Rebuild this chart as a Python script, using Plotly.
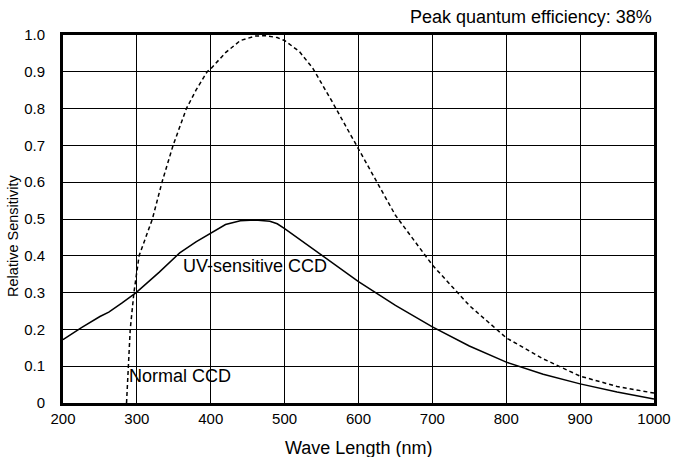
import plotly.graph_objects as go

# UV-sensitive CCD (solid)
uv_wl = [200, 225, 250, 262, 280, 299, 330, 358, 380, 400, 420, 440, 460, 480, 490, 500, 520, 545, 570, 600, 650, 700, 750, 800, 850, 900, 950, 1000]
uv_val = [0.172, 0.205, 0.235, 0.247, 0.272, 0.300, 0.355, 0.408, 0.438, 0.462, 0.485, 0.495, 0.497, 0.494, 0.487, 0.474, 0.445, 0.408, 0.372, 0.330, 0.265, 0.207, 0.155, 0.111, 0.078, 0.052, 0.030, 0.011]

# Normal CCD (dashed)
normal_wl = [286, 288, 291, 296, 303, 312, 321, 334, 349, 367, 380, 395, 400, 420, 440, 460, 475, 490, 500, 520, 538, 564, 600, 650, 700, 750, 800, 850, 900, 950, 1000]
normal_val = [0.0, 0.1, 0.2, 0.3, 0.4, 0.45, 0.5, 0.6, 0.7, 0.8, 0.85, 0.9, 0.908, 0.952, 0.985, 0.997, 0.998, 0.993, 0.985, 0.955, 0.91, 0.82, 0.69, 0.51, 0.375, 0.265, 0.177, 0.12, 0.073, 0.045, 0.027]

x_ticks = [200, 300, 400, 500, 600, 700, 800, 900, 1000]
y_ticks = [0, 0.1, 0.2, 0.3, 0.4, 0.5, 0.6, 0.7, 0.8, 0.9, 1.0]
y_ticktext = ["0", "0.1", "0.2", "0.3", "0.4", "0.5", "0.6", "0.7", "0.8", "0.9", "1.0"]

FONT = "Liberation Sans, Arial, sans-serif"

fig = go.Figure()
fig.add_trace(go.Scatter(x=uv_wl, y=uv_val, mode="lines", name="UV-sensitive CCD",
                         line=dict(color="black", width=1.5), hoverinfo="skip"))
fig.add_trace(go.Scatter(x=normal_wl, y=normal_val, mode="lines", name="Normal CCD",
                         line=dict(color="black", width=1.5, dash="4px,3px"), hoverinfo="skip"))

fig.update_layout(
    width=673, height=457,
    margin=dict(l=63, r=19, t=35, b=54, autoexpand=False),
    paper_bgcolor="white", plot_bgcolor="white",
    showlegend=False,
    font=dict(family=FONT, color="black", size=15),
    xaxis=dict(range=[200, 1000], tickvals=x_ticks, ticktext=[str(v) for v in x_ticks],
               showgrid=True, gridcolor="black", gridwidth=1, automargin=False,
               showline=True, linecolor="black", linewidth=3, mirror=True,
               ticks="", tickfont=dict(size=15), zeroline=False),
    yaxis=dict(range=[0, 1], tickvals=y_ticks, ticktext=y_ticktext,
               showgrid=True, gridcolor="black", gridwidth=1, automargin=False,
               showline=True, linecolor="black", linewidth=3, mirror=True,
               ticks="outside", ticklen=12, tickcolor="rgba(0,0,0,0)",
               tickfont=dict(size=15), zeroline=False),
    annotations=[
        dict(text="Peak quantum efficiency: 38%", xref="paper", yref="paper",
             x=1.0, y=1.0, xanchor="right", yanchor="bottom", yshift=6,
             showarrow=False, font=dict(size=18)),
        dict(text="UV-sensitive CCD", x=360, y=0.372, xref="x", yref="y",
             xanchor="left", yanchor="middle", showarrow=False, font=dict(size=18)),
        dict(text="Normal CCD", x=286, y=0.074, xref="x", yref="y",
             xanchor="left", yanchor="middle", showarrow=False, font=dict(size=18)),
        dict(text="Wave Length (nm)", xref="paper", yref="paper",
             x=(358.5 - 63) / 591, y=(403 - 447.7) / 368, xanchor="center", yanchor="middle",
             showarrow=False, font=dict(size=18)),
        dict(text="Relative Sensitivity", xref="paper", yref="paper",
             x=(13 - 63) / 591, y=0.454, xanchor="center", yanchor="middle",
             textangle=-90, showarrow=False, font=dict(size=14.5)),
    ],
)

fig.write_html("out.html", config={"displayModeBar": False},
               post_script="document.body.style.margin='0';document.body.style.overflow='hidden';")
